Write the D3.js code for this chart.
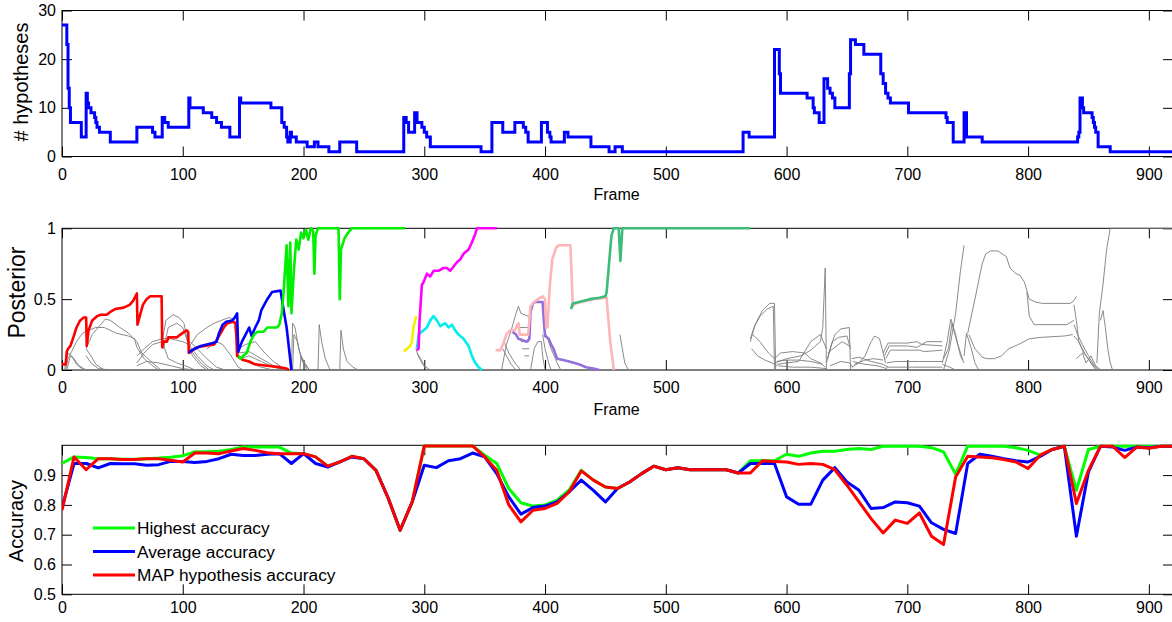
<!DOCTYPE html>
<html><head><meta charset="utf-8">
<script src="https://cdn.jsdelivr.net/npm/d3@7"></script>
<style>body{margin:0;background:#fff}svg{display:block}</style>
</head><body>
<svg id="c" width="1172" height="622"></svg>
<script>
const xTicks=[0,100,200,300,400,500,600,700,800,900];
const hypTicks=[0,10,20,30];
const postTicks=[0,0.5,1];
const accTicks=[0.5,0.6,0.7,0.8,0.9];

const hypotheses=[[0,27],[4,23],[5,14],[6,10],[7,7],[16,4],[20,13],[21,11],[22,10],[24,9],[27,8],[28,7],[29,6],[31,5],[40,3],[62,6],[75,5],[77,4],[83,8],[85,7],[88,6],[105,12],[106,10],[117,9],[124,8],[128,7],[132,6],[139,4],[147,12],[148,11],[173,10],[182,7],[184,6],[186,4],[187,3],[189,5],[190,4],[194,3],[203,2],[209,3],[212,2],[221,1],[230,3],[244,1],[283,8],[285,7],[287,5],[292,9],[294,7],[298,6],[300,5],[302,4],[305,2],[347,1],[356,7],[365,5],[375,7],[382,6],[384,5],[386,3],[397,7],[402,5],[404,4],[405,3],[416,5],[419,4],[438,2],[453,1],[458,2],[464,1],[564,5],[569,4],[590,22],[594,17],[595,13],[617,12],[622,10],[623,9],[627,7],[631,16],[634,14],[636,13],[638,12],[640,10],[652,17],[653,24],[657,23],[664,21],[678,17],[680,15],[682,13],[684,12],[686,11],[701,9],[732,8],[733,7],[738,3],[747,9],[749,4],[762,3],[841,4],[842,5],[843,12],[845,10],[846,9],[853,8],[854,7],[855,6],[856,5],[858,2],[868,1],[920,1]];

const postRed=[[0,0.04],[3,0.04],[4,0.13],[5,0.15],[7,0.17],[9,0.22],[12,0.3],[15,0.35],[18,0.37],[20,0.37],[20.5,0.17],[22,0.28],[25,0.35],[29,0.38],[32,0.39],[37,0.39],[40,0.41],[44,0.43],[51,0.44],[56,0.46],[59,0.49],[62,0.54],[62.5,0.32],[65,0.4],[67,0.46],[70,0.5],[73,0.52],[82.5,0.52],[83,0.16],[84,0.2],[87,0.2],[88,0.23],[95,0.23],[98,0.25],[103,0.28],[104.5,0.27],[105,0.12],[108,0.14],[112,0.16],[118,0.17],[126,0.18],[130,0.24],[134,0.3],[137,0.33],[142,0.34],[144,0.33],[145,0.1],[150,0.07],[155,0.06],[160,0.04],[170,0.03],[180,0.02],[186,0.01],[188,0]];
const postBlue=[[105,0.12],[106,0.13],[110,0.15],[115,0.17],[120,0.18],[125,0.19],[128,0.2],[130,0.26],[133,0.32],[136,0.34],[141,0.35],[143,0.37],[145,0.4],[146,0.13],[149,0.2],[152,0.25],[155,0.3],[157,0.24],[160,0.3],[163,0.35],[165,0.42],[170,0.5],[174,0.55],[181,0.56],[183,0.45],[186,0.3],[188,0.15],[190,0]];
const postLime=[[146,0.1],[148,0.08],[150,0.1],[153,0.12],[156,0.2],[159,0.25],[162,0.27],[167,0.27],[170,0.3],[178,0.3],[180,0.32],[182,0.4],[183.5,0.55],[185,0.75],[186,0.88],[187.5,0.45],[189,0.9],[190,0.4],[192,0.7],[194,0.92],[196,0.85],[198,0.97],[200,0.93],[202,0.99],[204,0.92],[206,1],[208,0.98],[209,0.68],[210,0.95],[212,1],[229,1],[230,0.5],[231,0.85],[234,0.93],[237,0.97],[240,1],[284,1]];
const postYellow=[[283,0.13],[285.6,0.15],[288.3,0.17],[289.7,0.2],[291,0.3],[293.3,0.38]];
const postMagenta=[[293.9,0.14],[295.3,0.15],[296.1,0.35],[298,0.6],[299.4,0.62],[302.2,0.68],[304.9,0.66],[307.7,0.7],[311.8,0.7],[316,0.72],[318.7,0.72],[321.5,0.7],[324.3,0.73],[327,0.76],[329.8,0.78],[332.5,0.82],[336.7,0.85],[339.4,0.9],[342.2,0.96],[343.6,1],[360,1]];
const postCyan=[[293.9,0.15],[295.3,0.25],[299.4,0.28],[302.2,0.3],[304.9,0.35],[307.7,0.38],[310.4,0.35],[313.2,0.31],[317.4,0.33],[320.1,0.3],[322.9,0.32],[325.6,0.28],[328.4,0.25],[332.5,0.22],[336.7,0.17],[339.4,0.1],[342.2,0.05],[345,0.02],[347.7,0]];
const postPink=[[359,0.14],[363,0.14],[366,0.2],[368,0.25],[371,0.28],[375,0.28],[377,0.32],[378,0.33],[379,0.25],[386,0.25],[388,0.45],[391,0.48],[394,0.5],[398,0.52],[400,0.5],[401,0.3],[402,0.3],[404,0.6],[406,0.78],[409,0.86],[411,0.88],[421,0.88],[423,0.45],[425,0.47],[440,0.5],[451,0.51],[452,0.4],[454,0.2],[457,0]];
const postPurple=[[373,0.27],[376,0.25],[378,0.22],[385,0.2],[387,0.22],[388,0.41],[390,0.47],[392,0.48],[398,0.48],[399,0.35],[400,0.24],[403,0.22],[405,0.18],[407,0.15],[410,0.08],[415,0.07],[420,0.06],[428,0.04],[434,0.02],[440,0.01],[445,0]];
const postTeal=[[421.5,0.43],[423,0.47],[428,0.48],[437,0.5],[445,0.51],[450,0.52],[451,0.55],[453,0.75],[455,0.95],[457,1],[461,1],[462.4,0.77],[464,1],[570,1]];

const postGray=[
[[3,0],[5,0.08],[8,0.13],[12,0.2],[17,0.26],[22,0.28],[28,0.3],[35,0.3],[45,0.26],[55,0.24],[60,0.22],[62,0.16],[68,0.08],[75,0.03],[80,0]],
[[20,0.15],[25,0.25],[30,0.3],[36,0.36],[40,0.35],[48,0.3],[55,0.26],[62,0.2],[66,0.12],[75,0.05],[82,0]],
[[2,0],[5,0.12],[8,0.1],[12,0.04],[18,0]],
[[4,0],[7,0.1],[10,0.08],[14,0.03],[20,0]],
[[20,0.1],[24,0.05],[30,0.01],[40,0]],
[[20,0.15],[24,0.1],[28,0.04],[35,0]],
[[62,0.1],[68,0.15],[75,0.2],[83,0.22],[90,0.22],[100,0.2],[105,0.18],[112,0.1],[120,0.03],[126,0]],
[[62,0.05],[68,0.12],[75,0.18],[83,0.2],[88,0.08],[95,0.05],[105,0.02],[110,0]],
[[83,0.2],[86,0.35],[92,0.39],[97,0.37],[101,0.33],[104,0.2],[108,0.1],[115,0.03],[120,0]],
[[84,0.15],[88,0.3],[95,0.33],[100,0.3],[104,0.2]],
[[62,0.03],[70,0.06],[80,0.05],[90,0.03],[100,0.01],[110,0]],
[[105,0.16],[112,0.25],[120,0.3],[126,0.33],[132,0.35],[138,0.37],[142,0.36],[146,0.1],[155,0.05],[165,0.02],[175,0]],
[[106,0.15],[110,0.1],[115,0.05],[122,0]],
[[106,0.2],[112,0.15],[120,0.08],[128,0.02],[135,0]],
[[120,0.15],[128,0.2],[133,0.18],[140,0.1],[146,0.02],[150,0]],
[[146,0.15],[152,0.18],[160,0.2],[168,0.12],[175,0.06],[182,0.02],[190,0]],
[[146,0.12],[155,0.13],[165,0.08],[175,0.03],[185,0]],
[[147,0.08],[155,0.1],[165,0.06],[175,0.02],[185,0]],
[[190,0],[191,0.33],[193,0.3],[196,0.15],[200,0.05],[205,0]],
[[191,0],[192,0.25],[195,0.2],[198,0.08],[203,0]],
[[197,0],[198,0.1],[201,0.05],[205,0]],
[[212,0],[213,0.32],[215,0.2],[218,0.08],[222,0]],
[[230,0],[231,0.28],[233,0.15],[236,0.06],[241,0.02],[245,0]],
[[293,0.15],[295,0.1],[298,0.05],[302,0]],
[[294,0.12],[297,0.08],[300,0.03],[305,0]],
[[364,0],[368,0.18],[372,0.28],[376,0.4],[378,0.45],[380,0.4],[386,0.38],[388,0.35]],
[[365,0.15],[368,0.1],[372,0.04],[376,0]],
[[366,0.2],[370,0.12],[375,0.05],[380,0]],
[[378,0.3],[384,0.3],[388,0.3]],
[[380,0.2],[387,0.2]],
[[381,0.15],[387,0.15]],
[[383,0.1],[387,0.1]],
[[388,0],[391,0.15],[394,0.2],[397,0.2],[398,0.1],[400,0]],
[[398,0.25],[400,0.15],[403,0.05],[405,0]],
[[401,0.25],[405,0.15],[410,0.05],[413,0]],
[[462,0.25],[464,0.15],[466,0.05],[469,0]],
[[570,0.22],[573,0.3],[578,0.38],[584,0.43],[589,0.45],[590,0]],
[[570,0.2],[574,0.32],[580,0.42],[586,0.47],[590,0.47],[591,0]],
[[571,0.15],[576,0.1],[582,0.07],[588,0.05],[592,0.03]],
[[572,0.25],[578,0.2],[585,0.12],[590,0.08]],
[[590,0.08],[595,0.12],[605,0.13],[615,0.12],[620,0.08],[628,0.05],[632,0.02]],
[[590,0.05],[600,0.08],[612,0.1],[620,0.14],[628,0.2],[630,0.3],[632,0.72],[633,0]],
[[592,0.06],[600,0.07],[610,0.07],[620,0.06],[630,0.04]],
[[592,0.04],[600,0.05],[610,0.06],[620,0.2],[628,0.25],[633,0.15]],
[[593,0.03],[605,0.02],[620,0.02],[633,0.01]],
[[633,0.05],[636,0.15],[640,0.25],[645,0.29],[652,0.3],[653,0]],
[[634,0.08],[638,0.2],[643,0.23],[650,0.24],[653,0.15]],
[[634,0.12],[640,0.16],[646,0.2],[652,0.17]],
[[636,0.03],[645,0.06],[652,0.05],[655,0.02]],
[[654,0.02],[660,0.05],[665,0.1],[670,0.2],[673,0.24],[677,0.22],[680,0.12],[682,0.05]],
[[654,0.08],[660,0.09],[670,0.06],[680,0.04],[684,0.02]],
[[655,0.06],[665,0.04],[675,0.03],[683,0.01]],
[[656,0.04],[665,0.07],[672,0.08],[680,0.07]],
[[680,0.12],[684,0.19],[700,0.19],[708,0.2],[712,0.18],[716,0.2],[729,0.2]],
[[681,0.1],[685,0.17],[700,0.17],[708,0.16],[712,0.18],[729,0.17]],
[[682,0.08],[686,0.14],[700,0.14],[710,0.14],[714,0.13],[729,0.14]],
[[683,0.05],[690,0.06],[710,0.06],[729,0.06]],
[[683,0.02],[729,0.02]],
[[729,0.05],[733,0.2],[736,0.36],[740,0.25],[744,0.1],[747,0.05]],
[[730,0.08],[734,0.15],[737,0.33],[741,0.2],[746,0.07]],
[[730,0],[735,0.15],[740,0.4],[744,0.7],[747,0.88]],
[[747,0.1],[749,0.26],[753,0.15],[756,0.05],[759,0]],
[[729,0.04],[735,0.02],[740,0]],
[[750,0.26],[756,0.5],[762,0.75],[765,0.82],[769,0.84],[775,0.84],[782,0.8],[785,0.72],[790,0.68],[793,0.67],[797,0.62],[801,0.5],[806,0.48],[812,0.47],[835,0.47],[838,0.49],[840,0.52]],
[[751,0.25],[756,0.15],[762,0.09],[766,0.08],[772,0.08],[778,0.1],[784,0.15],[792,0.18],[801,0.22],[810,0.23],[830,0.24],[837,0.25]],
[[799,0.55],[801,0.38],[805,0.32],[832,0.32],[838,0.35]],
[[838,0.46],[840,0.35],[842,0.2],[845,0.15],[848,0.1],[852,0.05],[856,0]],
[[838,0.32],[841,0.25],[845,0.18],[850,0.1],[855,0.03],[860,0]],
[[838,0.24],[842,0.2],[846,0.12],[850,0.08],[855,0.02],[858,0]],
[[857,0.05],[859,0.4],[862,0.6],[865,0.85],[868,1],[920,1]],
[[860,0.35],[862,0.42],[864,0.3],[866,0.15],[868,0.05],[870,0]],
[[840,0.08],[845,0.12],[848,0.05],[852,0.1],[856,0.03],[860,0]]
];

const accFrames=[0,10,20,30,40,50,60,70,80,90,100,110,120,130,140,150,160,170,180,190,200,210,220,230,240,250,260,270,280,290,300,310,320,330,340,350,360,370,380,390,400,410,420,430,440,450,460,470,480,490,500,510,520,530,540,550,560,570,580,590,600,610,620,630,640,650,660,670,680,690,700,710,720,730,740,750,760,770,780,790,800,810,820,830,840,850,860,870,880,890,900,910,920];
const accHighest=[0.939,0.961,0.959,0.955,0.955,0.953,0.953,0.955,0.957,0.96,0.965,0.978,0.978,0.98,0.986,0.994,0.994,0.994,0.994,0.974,0.972,0.961,0.93,0.944,0.963,0.955,0.916,0.824,0.715,0.81,0.998,0.998,0.998,0.998,0.998,0.967,0.939,0.855,0.807,0.796,0.8,0.816,0.85,0.916,0.883,0.86,0.855,0.877,0.905,0.93,0.918,0.925,0.918,0.918,0.918,0.918,0.907,0.948,0.948,0.948,0.97,0.963,0.974,0.98,0.98,0.986,0.989,0.986,0.997,0.997,0.997,0.997,0.992,0.978,0.903,0.997,0.997,0.997,0.997,0.992,0.983,0.967,0.986,0.997,0.849,0.986,0.997,0.997,0.997,0.997,0.997,0.997,0.997];
const accAverage=[0.79,0.939,0.939,0.924,0.939,0.938,0.938,0.933,0.935,0.946,0.946,0.942,0.946,0.955,0.97,0.966,0.966,0.97,0.972,0.939,0.972,0.939,0.927,0.944,0.961,0.955,0.916,0.824,0.715,0.81,0.933,0.925,0.948,0.955,0.974,0.961,0.905,0.827,0.769,0.791,0.796,0.81,0.844,0.883,0.849,0.81,0.855,0.877,0.905,0.93,0.918,0.925,0.918,0.918,0.918,0.918,0.907,0.939,0.939,0.939,0.827,0.802,0.802,0.883,0.925,0.877,0.849,0.788,0.791,0.81,0.807,0.796,0.74,0.718,0.704,0.939,0.97,0.963,0.955,0.948,0.944,0.963,0.986,0.997,0.695,0.911,0.997,0.994,0.983,0.994,0.992,0.997,0.997];
const accMAP=[0.782,0.961,0.918,0.955,0.955,0.952,0.952,0.955,0.955,0.95,0.944,0.974,0.974,0.972,0.981,0.989,0.983,0.975,0.972,0.972,0.972,0.961,0.93,0.944,0.963,0.955,0.916,0.824,0.715,0.81,0.998,0.998,0.998,0.998,0.998,0.961,0.916,0.8,0.743,0.782,0.788,0.805,0.844,0.914,0.883,0.86,0.855,0.877,0.905,0.93,0.918,0.925,0.918,0.918,0.918,0.918,0.907,0.907,0.948,0.946,0.944,0.936,0.939,0.936,0.918,0.866,0.81,0.754,0.706,0.749,0.738,0.773,0.695,0.667,0.894,0.963,0.961,0.958,0.952,0.944,0.922,0.967,0.986,0.997,0.805,0.916,0.997,0.997,0.959,0.994,0.99,0.997,0.997];
const legendLabels=["Highest accuracy","Average accuracy","MAP hypothesis accuracy"];
const legendColors=["#00ff00","#0000ff","#ff0000"];

const FONT='"Liberation Sans", Arial, Helvetica, sans-serif';
const L=62,R=1173,TICK=10;
const svg=d3.select('#c');
const x=d3.scaleLinear().domain([0,920]).range([L,R]);

function panel(id,top,bottom,ydom,yt,yfmt,labPad){
  const y=d3.scaleLinear().domain(ydom).range([bottom,top]);
  const g=svg.append('g');
  svg.append('defs').append('clipPath').attr('id',id).append('rect')
    .attr('x',L).attr('y',top-3).attr('width',R-L+2).attr('height',bottom-top+6);
  const style=a=>{a.select('.domain').remove();a.attr('font-family',FONT).attr('font-size',16);a.selectAll('text').attr('fill','#000');a.selectAll('line').attr('stroke','#000');};
  g.append('g').attr('transform',`translate(0,${bottom})`)
    .call(d3.axisBottom(x).tickValues(xTicks).tickSize(-TICK).tickPadding(labPad).tickFormat(d3.format('d'))).call(style);
  g.append('g').attr('transform',`translate(0,${top})`)
    .call(d3.axisTop(x).tickValues(xTicks).tickSize(-TICK).tickFormat('')).call(style);
  g.append('g').attr('transform',`translate(${L},0)`)
    .call(d3.axisLeft(y).tickValues(yt).tickSize(-TICK).tickPadding(6).tickFormat(yfmt)).call(style);
  g.append('g').attr('transform',`translate(${R},0)`)
    .call(d3.axisRight(y).tickValues(yt).tickSize(-TICK).tickFormat('')).call(style);
  g.append('rect').attr('x',L).attr('y',top).attr('width',R-L).attr('height',bottom-top)
    .attr('fill','none').attr('stroke','#000').attr('stroke-width',1);
  const plot=svg.append('g').attr('clip-path',`url(#${id})`);
  return {y,plot};
}
function yLabel(txt,bx,cy,size){
  svg.append('text').attr('transform',`translate(${bx},${cy}) rotate(-90)`)
    .attr('text-anchor','middle').attr('font-family',FONT).attr('font-size',size).attr('fill','#000').text(txt);
}
function xLabel(txt,base){
  svg.append('text').attr('x',616.5).attr('y',base).attr('text-anchor','middle')
    .attr('font-family',FONT).attr('font-size',16).attr('fill','#000').text(txt);
}

// Panel 1
const p1=panel('c1',10.5,156.5,[0,30],hypTicks,d3.format('d'),12);
p1.plot.append('path').datum(hypotheses)
  .attr('d',d3.line().x(d=>x(d[0])).y(d=>p1.y(d[1])).curve(d3.curveStepAfter))
  .attr('fill','none').attr('stroke','#0000ff').attr('stroke-width',3);
yLabel('# hypotheses',27.5,82,20);
xLabel('Frame',200);

// Panel 2
const p2=panel('c2',228.3,370,[0,1],postTicks,d=>d===0.5?'0.5':d3.format('d')(d),11.6);
const l2=d3.line().x(d=>x(d[0])).y(d=>p2.y(d[1]));
p2.plot.selectAll('.g').data(postGray).enter().append('path')
  .attr('d',l2).attr('fill','none').attr('stroke','#7d7d7d').attr('stroke-width',0.9);
const colored=[[postRed,'#ff0000'],[postBlue,'#0000ff'],[postLime,'#00f000'],[postYellow,'#f2f200'],[postCyan,'#00eeee'],[postMagenta,'#ff00ff'],[postPurple,'#9370db'],[postPink,'#ffb5b8'],[postTeal,'#3cbc78']];
colored.forEach(([d,c])=>{
  p2.plot.append('path').datum(d).attr('d',l2).attr('fill','none').attr('stroke',c).attr('stroke-width',2.6).attr('stroke-linejoin','round');
});
yLabel('Posterior',24.5,292.5,23);
xLabel('Frame',415);

// Panel 3
const p3=panel('c3',445.3,594.3,[0.5,1],accTicks,d3.format('.1f'),7.3);
const l3=d3.line().x((d,i)=>x(accFrames[i])).y(d=>p3.y(d));
[[accHighest,legendColors[0]],[accAverage,legendColors[1]],[accMAP,legendColors[2]]].forEach(([d,c])=>{
  p3.plot.append('path').datum(d).attr('d',l3).attr('fill','none').attr('stroke',c).attr('stroke-width',3).attr('stroke-linejoin','round');
});
yLabel('Accuracy',22.5,521,20);
const lg=svg.append('g');
legendLabels.forEach((t,i)=>{
  const yy=528+i*23.5;
  lg.append('line').attr('x1',93).attr('x2',135).attr('y1',yy).attr('y2',yy).attr('stroke',legendColors[i]).attr('stroke-width',3);
  lg.append('text').attr('x',137).attr('y',yy+6).attr('font-family',FONT).attr('font-size',17.3).attr('fill','#000').text(t);
});
</script>
</body></html>
